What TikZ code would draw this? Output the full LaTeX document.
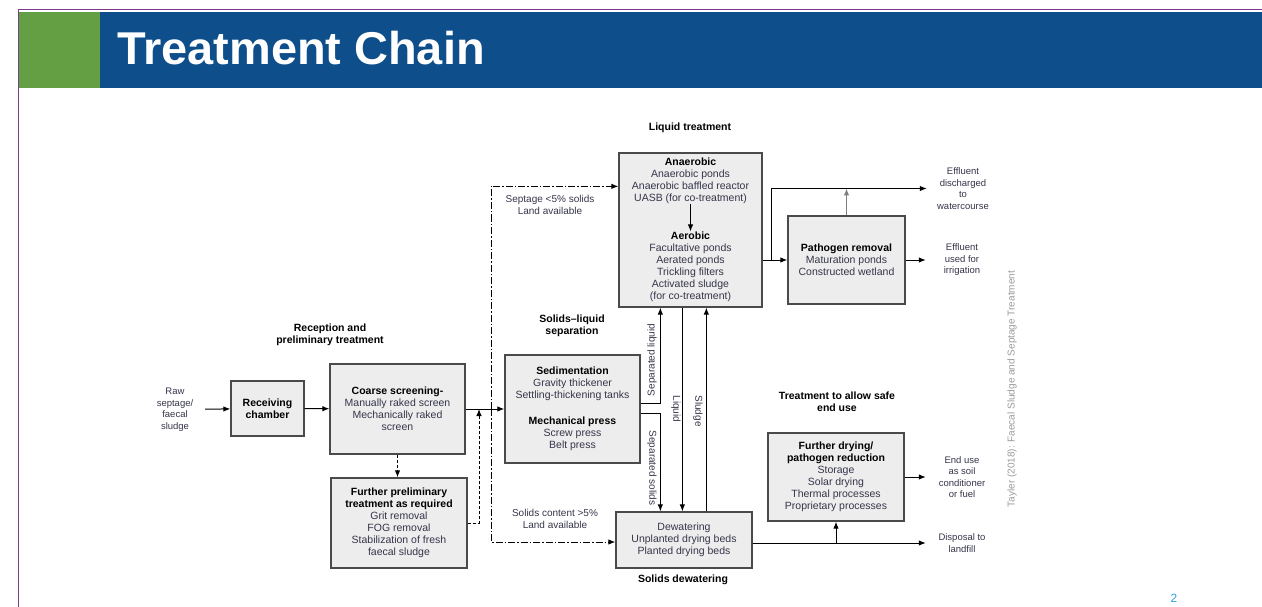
\documentclass[tikz,border=0pt]{standalone}
\usepackage{fontspec}
\setmainfont{Liberation Sans}
\usetikzlibrary{arrows.meta,calc}
\definecolor{slideblue}{HTML}{0E4E8A}
\definecolor{slidegreen}{HTML}{64A043}
\definecolor{framepurple}{HTML}{7D3C8C}
\definecolor{boxgray}{HTML}{EDEDED}
\definecolor{edgegray}{HTML}{4A4A4A}
\definecolor{txtgray}{HTML}{35354A}
\definecolor{notegray}{HTML}{9A9A9A}
\definecolor{pagecyan}{HTML}{2EA3DC}
\newcommand\boxhead[1]{\textcolor{black}{\bfseries #1}}

\begin{document}
\begin{tikzpicture}[x=1pt,y=-1pt,
 box/.style={draw=edgegray,fill=boxgray,line width=1.3pt,inner sep=0pt,align=center,text=txtgray,font=\fontsize{10.5}{12}\selectfont},
 txt/.style={align=center,text=txtgray,font=\fontsize{10}{12}\selectfont,inner sep=0pt},
 hd/.style={align=center,font=\fontsize{10.5}{12}\selectfont\bfseries,inner sep=0pt},
 sm/.style={align=center,text=txtgray,font=\fontsize{9.5}{11.5}\selectfont,inner sep=0pt,minimum width=72pt},
 arr/.style={-{Latex[length=7pt,width=5.5pt]},line width=1pt},
 dotarr/.style={arr,dash pattern=on 3pt off 2pt},
 dasharr/.style={arr,dash pattern=on 7pt off 2pt on 1.5pt off 2pt}]
\useasboundingbox (0,0) rectangle (1262,607);
% slide header
\fill[slidegreen] (19,12) rectangle (100,88);
\fill[slideblue] (100,12) rectangle (1262,88);
\draw[framepurple,line width=1.5pt] (18.5,607) -- (18.5,9.5) -- (1262,9.5);
\node[anchor=base west,text=white,font=\fontsize{46}{46}\selectfont\bfseries,inner sep=0pt,xscale=1.02] (title) at (117,65){Treatment Chain};
% stage headings
\node[hd] (hrec) at (330,335){Reception and\\preliminary treatment};
\node[hd] (hliq) at (690,128){Liquid treatment};
\node[hd] (hsep) at (572,326){Solids--liquid\\separation};
\node[hd] (hdew) at (683,580){Solids dewatering};
\node[hd] (hend) at (837,402){Treatment to allow safe\\end use};
% process boxes
\node[box,minimum width=73pt,minimum height=55pt] (recv) at (267.5,408.5){\boxhead{Receiving}\\\boxhead{chamber}};
\node[box,minimum width=135pt,minimum height=90pt] (coarse) at (397.5,409){\boxhead{Coarse screening-}\\Manually raked screen\\Mechanically raked\\screen};
\node[box,minimum width=136pt,minimum height=90pt] (prelim) at (399,523){\boxhead{Further preliminary}\\\boxhead{treatment as required}\\Grit removal\\FOG removal\\Stabilization of fresh\\faecal sludge};
\node[box,minimum width=135pt,minimum height=108pt] (sed) at (572.5,409){\boxhead{Sedimentation}\\Gravity thickener\\Settling-thickening tanks\\[14pt]\boxhead{Mechanical press}\\Screw press\\Belt press};
\node[box,minimum width=143pt,minimum height=154pt] (liq) at (690.5,230){};
\node[txt,font=\fontsize{10.5}{12}\selectfont] (anaer) at (690.5,181){\boxhead{Anaerobic}\\Anaerobic ponds\\Anaerobic baffled reactor\\UASB (for co-treatment)};
\node[txt,font=\fontsize{10.5}{12}\selectfont] (aer) at (690.5,266.5){\boxhead{Aerobic}\\Facultative ponds\\Aerated ponds\\Trickling filters\\Activated sludge\\(for co-treatment)};
\node[box,minimum width=117pt,minimum height=88pt] (path) at (846.5,260){\boxhead{Pathogen removal}\\Maturation ponds\\Constructed wetland};
\node[box,minimum width=136pt,minimum height=56pt] (dew) at (684,540){Dewatering\\Unplanted drying beds\\Planted drying beds};
\node[box,minimum width=136pt,minimum height=88pt] (dry) at (836,477){\boxhead{Further drying/}\\\boxhead{pathogen reduction}\\Storage\\Solar drying\\Thermal processes\\Proprietary processes};
% inputs and outputs
\node[sm,minimum width=60pt] (raw) at (175,409.5){Raw\\septage/\\faecal\\sludge};
\node[sm] (efflA) at (963,188.5){Effluent\\discharged\\to\\watercourse};
\node[sm] (efflB) at (962,260){Effluent\\used for\\irrigation};
\node[sm] (enduse) at (962,477){End use\\as soil\\conditioner\\or fuel};
\node[sm] (disp) at (962,543){Disposal to\\landfill};
% route notes
\node[txt] (noteA) at (550,205){Septage <5\% solids\\Land available};
\node[txt] (noteB) at (555,519){Solids content >5\%\\Land available};
\node[txt,rotate=90] (lsepl) at (652,360){Separated liquid};
\node[txt,rotate=-90] (lseps) at (652,468){Separated solids};
\node[txt,rotate=-90] (lliq) at (676,409){Liquid};
\node[txt,rotate=-90] (lslu) at (698,411){Sludge};
% connectors
\coordinate (back) at (479,409);
\coordinate (split) at (491,409);
\coordinate (fork) at (771,260);
\draw[arr] (raw) -- (recv);
\draw[arr] (recv) -- (coarse);
\draw[arr] (coarse) -- (sed);
\draw[dotarr] (coarse.south) -- (coarse.south |- prelim.north);
\draw[dotarr] (prelim.east) -| (back);
\draw[dasharr] (split) |- ($(liq.north west)+(0,34)$);
\draw[dasharr] (split) |- ($(dew.west)+(0,2)$);
\draw[arr] (anaer) -- (aer);
\draw[arr] ($(sed.east)+(0,-6)$) -| ($(liq.south west)+(42,0)$);
\draw[arr] ($(sed.east)+(0,4)$) -| ($(dew.north west)+(45,0)$);
\draw[arr] ($(liq.south west)+(64,0)$) -- ($(dew.north west)+(67,0)$);
\draw[arr] ($(dew.north west)+(91,0)$) -- ($(liq.south west)+(88,0)$);
\draw[arr] (path.west -| liq.east) -- (path.west);
\draw[arr] (fork) |- (efflA.west);
\draw[arr,draw=gray] (path.north) -- (path.north |- efflA.west);
\draw[arr] (path.east) -- (efflB.west);
\draw[arr] (dew.east |- disp.west) -- (disp.west);
\draw[arr] (dry.south |- disp.west) -- (dry.south);
\draw[arr] (dry.east) -- (enduse.west);
% source and page number
\node[rotate=90,text=notegray,font=\fontsize{10}{12}\selectfont] (credit) at (1012,389){Tayler (2018): Faecal Sludge and Septage Treatment};
\node[text=pagecyan,font=\fontsize{12}{12}\selectfont] (pgno) at (1174,598){2};
\end{tikzpicture}
\end{document}
